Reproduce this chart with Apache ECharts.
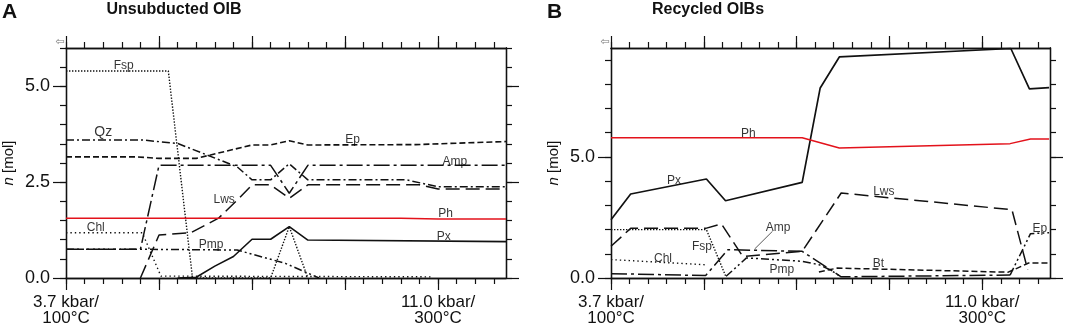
<!DOCTYPE html>
<html>
<head>
<meta charset="utf-8">
<script src="https://cdn.jsdelivr.net/npm/echarts@6/dist/echarts.min.js"></script>
<style>
  html, body { margin: 0; padding: 0; background: #fff; }
  #chart { width: 1065px; height: 326px; }
</style>
</head>
<body>
<div id="chart"></div>
<script>
// x = temperature in °C (10 °C per minor tick), y = n [mol]
const xTickLabels = { 100: '3.7 kbar/\n100°C', 300: '11.0 kbar/\n300°C' };

// ---- A: Unsubducted OIB ----
const aFsp = [[100, 5.40], [155, 5.40], [168, 0], [210, 0], [220, 1.34], [230, 0]];
const aChl = [[100, 1.18], [141, 1.18], [151, 0.05], [297, 0.03]];
const aQz = [[100, 3.60], [141, 3.60], [160, 3.51], [192, 2.90], [200, 2.56], [210, 2.56], [220, 2.98], [230, 2.56], [283, 2.56], [300, 2.38], [336.5, 2.38]];
const aEp = [[100, 3.16], [138, 3.16], [150, 3.12], [170, 3.12], [200, 3.47], [210, 3.47], [220, 3.58], [230, 3.47], [288, 3.48], [336.5, 3.56]];
const aAmp = [[100, 0.75], [140, 0.75], [150, 2.94], [210, 2.94], [220, 2.21], [230, 2.94], [336.5, 2.94]];
const aLws = [[140, 0], [150, 1.12], [167, 1.18], [182, 1.56], [193, 2.08], [200, 2.43], [210, 2.43], [220, 2.08], [230, 2.43], [290, 2.43], [300, 2.32], [336.5, 2.32]];
const aPh = [[100, 1.56], [280, 1.56], [300, 1.54], [336.5, 1.54]];
const aPx = [[160, 0], [170, 0.02], [180, 0.31], [190, 0.56], [200, 1.01], [210, 1.01], [220, 1.34], [230, 0.99], [336.5, 0.95]];
const aPmp = [[100, 0.75], [140, 0.75], [192, 0.73], [218, 0.38], [236, 0]];
const aLabels = [['Fsp', 131, 5.55], ['Qz', 120, 3.80], ['Ep', 254, 3.60], ['Amp', 309, 3.03], ['Lws', 185, 2.03],
  ['Ph', 304, 1.67], ['Px', 303, 1.08], ['Chl', 116, 1.30], ['Pmp', 178, 0.86]];

// ---- B: Recycled OIBs ----
const bPh = [[100, 5.79], [203, 5.79], [223, 5.37], [315, 5.55], [326, 5.74], [336, 5.74]];
const bPx = [[100, 2.41], [110.6, 3.47], [151.4, 4.09], [161.7, 3.19], [203, 3.95], [212.7, 7.85], [223, 9.13], [315.4, 9.48], [325.4, 7.81], [336, 7.86]];
const bLws = [[100, 1.31], [110.6, 2.05], [151, 2.05], [159.5, 2.23], [171, 0.89], [203, 1.10], [224, 3.51], [316, 2.82], [324.5, 0.34]];
const bAmp = [[100, 0.18], [151, 0.10], [163, 1.17], [203, 1.10], [224, 0.05], [315, 0.12]];
const bEp = [[315, 0.12], [326, 1.83], [336, 1.87]];
const bBt = [[212, 0.25], [222, 0.41], [314, 0.24], [325, 0.62], [336, 0.62]];
const bPmp = [[162, 0.07], [173, 0.83], [203, 0.69], [212, 0.55], [218, 0.34], [224, 0.04]];
const bChl = [[100, 0.76], [150.5, 0.55]];
const bFsp = [[100, 2.0], [151.4, 2.0], [162, 0.04]];
const bAmpPointer = [[187, 1.93], [177.4, 1.2]];
const bLabels = [['Ph', 174, 5.96], ['Px', 134, 4.03], ['Amp', 190, 2.07], ['Fsp', 149, 1.28], ['Chl', 128, 0.79],
  ['Pmp', 192, 0.34], ['Lws', 247, 3.58], ['Bt', 244, 0.58], ['Ep', 331, 2.02]];

const FONT = 'Liberation Sans, Arial, sans-serif';
const INK = '#111';
const RED = '#e3121b';
const DASH = {
  solid: 'solid',
  dot: [1.4, 1.6],
  sparseDot: [1.4, 3],
  dash: [6, 3],
  longDash: [14, 6],
  dashDot: [16, 4, 3, 4],
  dashDotDot: [8, 3, 2, 3, 2, 3],
  qz: [8, 3, 2, 3]
};

function range(a, b, step) {
  const out = [];
  for (let v = a; v <= b + 1e-9; v += step) out.push(Math.round(v * 100) / 100);
  return out;
}

const xMinor = range(100, 330, 10);
const xMajor = [100, 150, 200, 250, 300];

function baseAxis(grid, min, max, position, ticks, len, labels) {
  return {
    type: 'value',
    gridIndex: grid,
    position: position,
    min: min,
    max: max,
    axisLine: { show: true, onZero: false, lineStyle: { color: INK, width: 1.3 } },
    axisTick: { show: true, inside: false, length: len, customValues: ticks, lineStyle: { color: INK, width: 1.2 } },
    axisLabel: labels || { show: false },
    splitLine: { show: false },
    minorTick: { show: false },
    minorSplitLine: { show: false }
  };
}

function panelAxes(grid, yMax, yMinor, yMajor) {
  const xLab = {
    show: true,
    customValues: [100, 300],
    formatter: (v) => xTickLabels[v] || '',
    fontFamily: FONT,
    fontSize: 17,
    lineHeight: 16,
    color: INK,
    margin: 16
  };
  const yLab = {
    show: true,
    customValues: yMajor.filter((v) => v % 2.5 === 0),
    formatter: (v) => v.toFixed(1),
    fontFamily: FONT,
    fontSize: 18,
    color: INK,
    margin: 16
  };
  const x = [
    baseAxis(grid, 100, 336.5, 'bottom', xMinor, 6),
    baseAxis(grid, 100, 336.5, 'bottom', xMajor, 12, xLab),
    baseAxis(grid, 100, 336.5, 'top', xMinor, 6),
    baseAxis(grid, 100, 336.5, 'top', xMajor, 12)
  ];
  const yName = Object.assign(baseAxis(grid, 0, yMax, 'left', yMajor, 13, yLab), {
    name: '{i|n} [mol]',
    nameLocation: 'middle',
    nameRotate: 90,
    nameGap: 50,
    nameTextStyle: { fontFamily: FONT, fontSize: 15, color: INK, rich: { i: { fontStyle: 'italic', fontFamily: FONT, fontSize: 15 } } }
  });
  const y = [
    baseAxis(grid, 0, yMax, 'left', yMinor, 6),
    yName,
    baseAxis(grid, 0, yMax, 'right', yMinor, 6),
    baseAxis(grid, 0, yMax, 'right', yMajor, 13)
  ];
  return { x, y };
}

const axA = panelAxes(0, 6, range(0, 6, 0.5), [0, 2.5, 5]);
const axB = panelAxes(1, 9.5, range(0, 9, 1), [0, 5]);

const series = [];
function addLine(data, panel, type, color, width) {
  series.push({
    type: 'line',
    xAxisIndex: panel * 4,
    yAxisIndex: panel * 4,
    data: data,
    symbol: 'none',
    showSymbol: false,
    silent: true,
    z: color === RED ? 3 : 2,
    lineStyle: { color: color || INK, width: width || 1.5, type: type }
  });
}
function addLabels(list, panel) {
  series.push({
    type: 'scatter',
    xAxisIndex: panel * 4,
    yAxisIndex: panel * 4,
    symbolSize: 0,
    silent: true,
    z: 5,
    data: list.map((d) => ({ name: d[0], value: [d[1], d[2]] })),
    label: {
      show: true,
      position: 'inside',
      formatter: (p) => (p.name === 'Qz' ? '{q|Qz}' : p.name),
      fontFamily: FONT,
      fontSize: 12,
      color: '#000',
      rich: { q: { fontFamily: FONT, fontSize: 14, color: '#000' } }
    },
    labelLayout: { hideOverlap: false }
  });
}

// panel A
addLine(aFsp, 0, DASH.dot, INK, 1.4);
addLine(aChl, 0, DASH.sparseDot, INK, 1.4);
addLine(aQz, 0, DASH.qz);
addLine(aEp, 0, DASH.dash, INK, 1.6);
addLine(aAmp, 0, DASH.dashDot);
addLine(aLws, 0, DASH.longDash);
addLine(aPmp, 0, DASH.dashDotDot);
addLine(aPx, 0, DASH.solid, INK, 1.6);
addLine(aPh, 0, DASH.solid, RED, 1.5);
addLabels(aLabels, 0);

// panel B
addLine(bFsp, 1, DASH.dot, INK, 1.4);
addLine(bChl, 1, DASH.sparseDot, INK, 1.4);
addLine(bLws, 1, DASH.longDash);
addLine(bAmp, 1, DASH.dashDot);
addLine(bEp, 1, DASH.dashDotDot);
addLine(bBt, 1, DASH.dash, INK, 1.5);
addLine(bPmp, 1, DASH.dashDotDot);
addLine(bPx, 1, DASH.solid, INK, 1.7);
addLine(bPh, 1, DASH.solid, RED, 1.5);
addLine(bAmpPointer, 1, DASH.solid, INK, 0.7);
addLabels(bLabels, 1);

const chart = echarts.init(document.getElementById('chart'), null, { renderer: 'canvas' });
chart.setOption({
  animation: false,
  backgroundColor: '#fff',
  grid: [
    { left: 66, top: 48, width: 440, height: 230, outerBoundsMode: 'none', containLabel: false },
    { left: 611, top: 48, width: 439, height: 230, outerBoundsMode: 'none', containLabel: false }
  ],
  xAxis: axA.x.concat(axB.x),
  yAxis: axA.y.concat(axB.y),
  series: series,
  graphic: [
    { type: 'text', x: 2, y: 12, style: { text: 'A', font: 'bold 21px ' + FONT, fill: INK, textVerticalAlign: 'middle' } },
    { type: 'text', x: 174, y: 10, style: { text: 'Unsubducted OIB', font: 'bold 16px ' + FONT, fill: INK, textAlign: 'center', textVerticalAlign: 'middle' } },
    { type: 'text', x: 547, y: 12, style: { text: 'B', font: 'bold 21px ' + FONT, fill: INK, textVerticalAlign: 'middle' } },
    { type: 'text', x: 708, y: 10, style: { text: 'Recycled OIBs', font: 'bold 16px ' + FONT, fill: INK, textAlign: 'center', textVerticalAlign: 'middle' } },
    { type: 'text', x: 60, y: 42, style: { text: '⇦', font: '11px DejaVu Sans', fill: '#777', textAlign: 'center', textVerticalAlign: 'middle' } },
    { type: 'text', x: 605, y: 42, style: { text: '⇦', font: '11px DejaVu Sans', fill: '#777', textAlign: 'center', textVerticalAlign: 'middle' } }
  ]
});
</script>
</body>
</html>
